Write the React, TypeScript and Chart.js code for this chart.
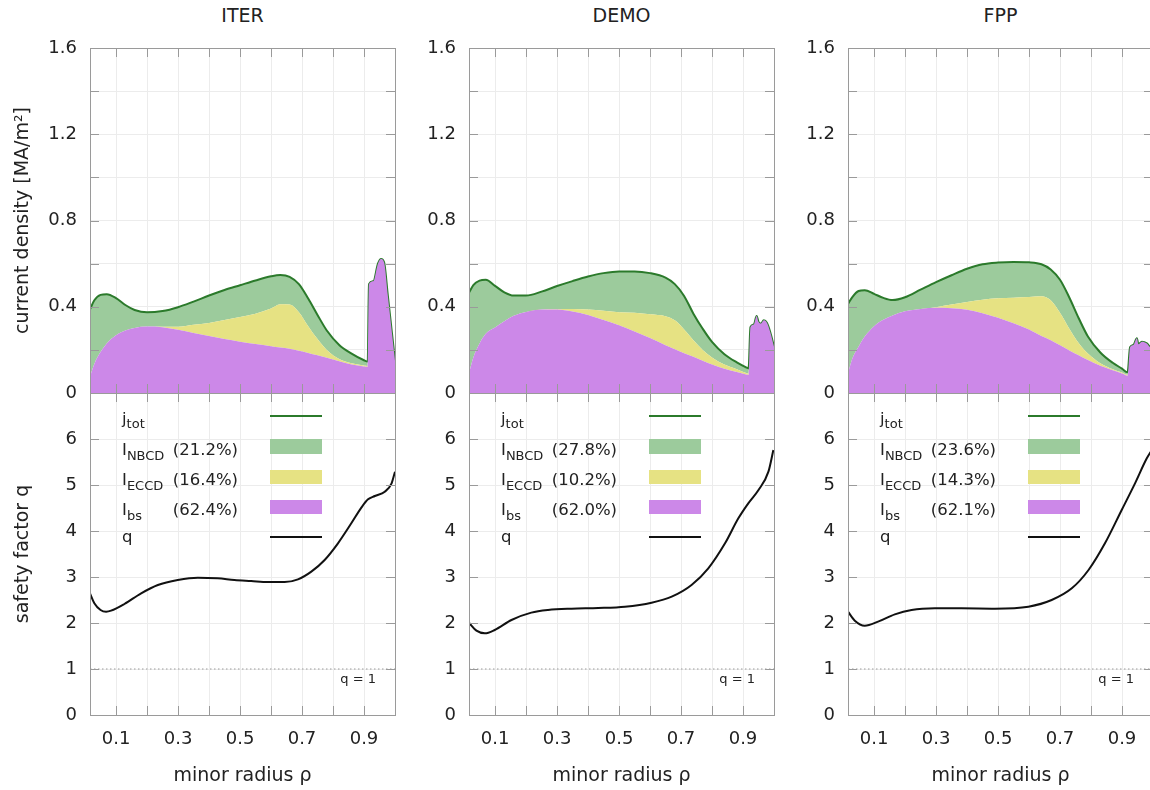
import React, { useEffect, useRef } from "react";
import { Chart, registerables } from "chart.js";

Chart.register(...registerables);

// ---------------- data ----------------
const MACHINES = ["ITER", "DEMO", "FPP"];

const X_MIN = 0.016;
const X_MAX = 1.0;
const J_MAX = 1.6;
const Q_MAX = 7;
const Q_REF = 1;

const X_LABELS = [0.1, 0.3, 0.5, 0.7, 0.9];
const J_LABELS = [0, 0.4, 0.8, 1.2, 1.6];
const Q_LABELS = [0, 1, 2, 3, 4, 5, 6];

const SHARE_NBCD = ["21.2%", "27.8%", "23.6%"];
const SHARE_ECCD = ["16.4%", "10.2%", "14.3%"];
const SHARE_BS = ["62.4%", "62.0%", "62.1%"];

// ITER current density components [MA/m^2]
const ITER_RHO = [0.016, 0.03, 0.05, 0.07, 0.1, 0.13, 0.16, 0.2, 0.25, 0.3, 0.35, 0.4, 0.45, 0.5, 0.55, 0.6, 0.63, 0.66, 0.69, 0.72, 0.75, 0.78, 0.82, 0.86, 0.9, 0.912, 0.916, 0.93, 0.945, 0.955, 0.965, 0.977, 0.99, 1.0];
const ITER_J_BS = [0.076, 0.135, 0.19, 0.23, 0.268, 0.29, 0.302, 0.308, 0.305, 0.293, 0.278, 0.264, 0.25, 0.238, 0.227, 0.217, 0.211, 0.205, 0.196, 0.186, 0.175, 0.163, 0.147, 0.132, 0.123, 0.121, 0.505, 0.518, 0.6, 0.622, 0.605, 0.45, 0.28, 0.15];
const ITER_J_ECCD = [0, 0, 0, 0, 0, 0, 0, 0, 0.002, 0.014, 0.038, 0.061, 0.088, 0.114, 0.141, 0.175, 0.201, 0.205, 0.179, 0.124, 0.075, 0.037, 0.011, 0.006, 0.004, 0.004, 0, 0, 0, 0, 0, 0, 0, 0];
const ITER_J_NBCD = [0.312, 0.295, 0.265, 0.228, 0.172, 0.118, 0.083, 0.066, 0.073, 0.091, 0.108, 0.127, 0.14, 0.148, 0.154, 0.149, 0.135, 0.129, 0.13, 0.128, 0.112, 0.09, 0.065, 0.045, 0.025, 0.021, 0, 0, 0, 0, 0, 0, 0, 0];
const ITER_Q_RHO = [0.016, 0.03, 0.05, 0.068, 0.084, 0.127, 0.181, 0.235, 0.299, 0.364, 0.428, 0.482, 0.536, 0.59, 0.644, 0.687, 0.73, 0.773, 0.816, 0.859, 0.892, 0.913, 0.935, 0.967, 0.989, 1.0];
const ITER_Q = [2.645, 2.428, 2.283, 2.246, 2.268, 2.413, 2.645, 2.826, 2.935, 2.986, 2.971, 2.935, 2.913, 2.891, 2.891, 2.949, 3.116, 3.37, 3.732, 4.167, 4.514, 4.688, 4.761, 4.855, 5.036, 5.29];

// DEMO
const DEMO_RHO = [0.016, 0.03, 0.05, 0.07, 0.1, 0.13, 0.16, 0.2, 0.25, 0.3, 0.35, 0.4, 0.45, 0.5, 0.55, 0.6, 0.65, 0.68, 0.71, 0.74, 0.77, 0.8, 0.84, 0.88, 0.91, 0.918, 0.924, 0.935, 0.944, 0.95, 0.958, 0.967, 0.977, 0.988, 1.0];
const DEMO_J_BS = [0.091, 0.165, 0.23, 0.275, 0.304, 0.333, 0.358, 0.376, 0.387, 0.387, 0.378, 0.362, 0.338, 0.314, 0.285, 0.255, 0.222, 0.203, 0.184, 0.168, 0.15, 0.132, 0.113, 0.097, 0.086, 0.084, 0.305, 0.318, 0.357, 0.33, 0.322, 0.337, 0.326, 0.282, 0.215];
const DEMO_J_ECCD = [0, 0, 0, 0, 0, 0, 0, 0, 0, 0.002, 0.012, 0.025, 0.044, 0.061, 0.087, 0.11, 0.134, 0.134, 0.111, 0.077, 0.05, 0.033, 0.019, 0.013, 0.007, 0.006, 0, 0, 0, 0, 0, 0, 0, 0, 0];
const DEMO_J_NBCD = [0.374, 0.335, 0.291, 0.25, 0.193, 0.134, 0.094, 0.076, 0.083, 0.107, 0.129, 0.153, 0.174, 0.189, 0.192, 0.191, 0.179, 0.168, 0.155, 0.123, 0.098, 0.072, 0.048, 0.032, 0.026, 0.024, 0, 0, 0, 0, 0, 0, 0, 0, 0];
const DEMO_Q_RHO = [0.016, 0.04, 0.067, 0.099, 0.153, 0.217, 0.271, 0.347, 0.433, 0.519, 0.605, 0.67, 0.734, 0.788, 0.842, 0.885, 0.917, 0.95, 0.982, 0.998];
const DEMO_Q = [2.007, 1.833, 1.775, 1.848, 2.065, 2.225, 2.283, 2.312, 2.326, 2.355, 2.442, 2.572, 2.826, 3.188, 3.732, 4.275, 4.601, 4.891, 5.29, 5.761];

// FPP
const FPP_RHO = [0.016, 0.03, 0.05, 0.07, 0.1, 0.13, 0.16, 0.2, 0.25, 0.3, 0.35, 0.4, 0.45, 0.5, 0.55, 0.6, 0.64, 0.67, 0.7, 0.73, 0.76, 0.79, 0.83, 0.87, 0.9, 0.918, 0.926, 0.937, 0.948, 0.953, 0.964, 0.98, 0.991, 1.0];
const FPP_J_BS = [0.091, 0.16, 0.215, 0.262, 0.31, 0.34, 0.36, 0.379, 0.39, 0.395, 0.393, 0.386, 0.37, 0.349, 0.323, 0.294, 0.264, 0.245, 0.221, 0.197, 0.175, 0.153, 0.126, 0.105, 0.09, 0.08, 0.212, 0.223, 0.254, 0.226, 0.238, 0.23, 0.212, 0.205];
const FPP_J_ECCD = [0, 0, 0, 0, 0, 0, 0, 0, 0, 0.003, 0.017, 0.036, 0.063, 0.09, 0.119, 0.151, 0.185, 0.185, 0.151, 0.101, 0.057, 0.03, 0.012, 0.005, 0.005, 0.004, 0, 0, 0, 0, 0, 0, 0, 0];
const FPP_J_NBCD = [0.322, 0.285, 0.258, 0.215, 0.15, 0.101, 0.071, 0.065, 0.089, 0.116, 0.136, 0.154, 0.164, 0.166, 0.166, 0.161, 0.148, 0.143, 0.153, 0.145, 0.116, 0.079, 0.05, 0.03, 0.018, 0.012, 0, 0, 0, 0, 0, 0, 0, 0];
const FPP_Q_RHO = [0.016, 0.038, 0.07, 0.113, 0.167, 0.221, 0.296, 0.382, 0.49, 0.598, 0.673, 0.738, 0.792, 0.845, 0.899, 0.942, 0.98, 1.0];
const FPP_Q = [2.246, 2.051, 1.942, 2.029, 2.188, 2.283, 2.319, 2.319, 2.312, 2.355, 2.5, 2.754, 3.152, 3.732, 4.457, 5.036, 5.58, 5.8];

const RHO = [ITER_RHO, DEMO_RHO, FPP_RHO];
const J_BS = [ITER_J_BS, DEMO_J_BS, FPP_J_BS];
const J_ECCD = [ITER_J_ECCD, DEMO_J_ECCD, FPP_J_ECCD];
const J_NBCD = [ITER_J_NBCD, DEMO_J_NBCD, FPP_J_NBCD];
const Q_RHO = [ITER_Q_RHO, DEMO_Q_RHO, FPP_Q_RHO];
const Q_VAL = [ITER_Q, DEMO_Q, FPP_Q];

// ---------------- styles / layout ----------------
const FONT = '"DejaVu Sans", Verdana, sans-serif';
const TEXT = "#222222";
const GRID = "#ececec";
const FRAME = "#9a9a9a";
const C_PURPLE = "#cc88e8";
const C_YELLOW = "#e6e283";
const C_GREEN = "#9ccb9c";
const C_JTOT = "#2b7a2b";
const C_Q = "#111111";

const PLOT_LEFT = [90, 469, 848];
const PLOT_W = 305;
const TOP_Y0 = 48;
const MID_Y = 393;
const BOT_Y1 = 715;
const AXIS_W = [90, 60, 60];
const PAD_T = 30;
const PAD_B = 30;
const PAD_R = 20;
const XAXIS_H = 790 - BOT_Y1;

const TICK_FONT = { family: FONT, size: 18 };
const TITLE_FONT = { family: FONT, size: 19 };

const near = (arr: number[], v: number) => arr.some((a) => Math.abs(a - v) < 1e-6);

const framePlugin = {
  id: "frameTicks",
  afterDatasetsDraw(chart: any) {
    const { ctx, chartArea } = chart;
    const { left, right, top, bottom } = chartArea;
    const xs = chart.scales.x;
    const ys = chart.scales.y;
    const L = 9;
    ctx.save();
    ctx.strokeStyle = FRAME;
    ctx.lineWidth = 1;
    ctx.beginPath();
    xs.ticks.forEach((t: any) => {
      const px = Math.round(xs.getPixelForValue(t.value)) + 0.5;
      if (px > left + 2 && px < right - 2) {
        ctx.moveTo(px, bottom);
        ctx.lineTo(px, bottom - L);
        ctx.moveTo(px, top);
        ctx.lineTo(px, top + L);
      }
    });
    ys.ticks.forEach((t: any) => {
      const py = Math.round(ys.getPixelForValue(t.value)) + 0.5;
      if (py > top + 2 && py < bottom - 2) {
        ctx.moveTo(left, py);
        ctx.lineTo(left + L, py);
        ctx.moveTo(right, py);
        ctx.lineTo(right - L, py);
      }
    });
    ctx.stroke();
    ctx.strokeRect(left + 0.5, top + 0.5, right - left, bottom - top);
    ctx.restore();
  },
};

function xScale(showLabels: boolean) {
  return {
    type: "linear",
    min: X_MIN,
    max: X_MAX,
    border: { display: false },
    grid: { color: GRID, drawTicks: false, lineWidth: 1 },
    ticks: {
      display: showLabels,
      stepSize: 0.1,
      includeBounds: false,
      autoSkip: false,
      maxRotation: 0,
      minRotation: 0,
      padding: 14,
      color: TEXT,
      font: TICK_FONT,
      callback: (v: number) => (near(X_LABELS, v) ? v.toFixed(1) : ""),
    },
    title: {
      display: showLabels,
      text: "minor radius ρ",
      color: TEXT,
      font: TITLE_FONT,
      padding: { top: 0, bottom: 3 },
    },
    afterFit: (s: any) => {
      s.height = showLabels ? XAXIS_H : 0;
    },
  };
}

function topConfig(i: number): any {
  const rho = RHO[i];
  const pts = (arr: number[]) => rho.map((x, k) => ({ x, y: arr[k] }));
  const common = { pointRadius: 0, cubicInterpolationMode: "monotone", borderWidth: 0 };
  return {
    type: "line",
    data: {
      datasets: [
        { ...common, label: "I_bs", data: pts(J_BS[i]), backgroundColor: C_PURPLE, borderColor: C_PURPLE, fill: "origin" },
        { ...common, label: "I_ECCD", data: pts(J_ECCD[i]), backgroundColor: C_YELLOW, borderColor: C_YELLOW, fill: "-1" },
        { ...common, label: "I_NBCD / j_tot", data: pts(J_NBCD[i]), backgroundColor: C_GREEN, borderColor: C_JTOT, borderWidth: 2, fill: "-1" },
      ],
    },
    options: {
      animation: false,
      responsive: false,
      devicePixelRatio: 1,
      layout: { padding: { left: 0, top: PAD_T, right: PAD_R, bottom: PAD_B } },
      plugins: { legend: { display: false }, tooltip: { enabled: false } },
      scales: {
        x: xScale(false),
        y: {
          type: "linear",
          stacked: true,
          min: 0,
          max: J_MAX,
          border: { display: false },
          grid: { color: GRID, drawTicks: false },
          ticks: {
            stepSize: 0.2,
            autoSkip: false,
            padding: 13,
            color: TEXT,
            font: TICK_FONT,
            callback: (v: number) => (near(J_LABELS, v) ? (v === 0 ? "0" : v.toFixed(1)) : ""),
          },
          title: {
            display: i === 0,
            text: "current density [MA/m²]",
            color: TEXT,
            font: TITLE_FONT,
            padding: { top: 12, bottom: 0 },
          },
          afterFit: (s: any) => {
            s.width = AXIS_W[i];
          },
        },
      },
    },
    plugins: [framePlugin],
  };
}

function bottomConfig(i: number): any {
  const qr = Q_RHO[i];
  return {
    type: "line",
    data: {
      datasets: [
        {
          label: "q",
          data: qr.map((x, k) => ({ x, y: Q_VAL[i][k] })),
          borderColor: C_Q,
          borderWidth: 2,
          pointRadius: 0,
          cubicInterpolationMode: "monotone",
          fill: false,
        },
        {
          label: "q = 1",
          data: [
            { x: X_MIN, y: Q_REF },
            { x: X_MAX, y: Q_REF },
          ],
          borderColor: "#9a9a9a",
          borderWidth: 1,
          borderDash: [1.5, 2.5],
          pointRadius: 0,
          fill: false,
        },
      ],
    },
    options: {
      animation: false,
      responsive: false,
      devicePixelRatio: 1,
      layout: { padding: { left: 0, top: PAD_T, right: PAD_R, bottom: 0 } },
      plugins: { legend: { display: false }, tooltip: { enabled: false } },
      scales: {
        x: xScale(true),
        y: {
          type: "linear",
          min: 0,
          max: Q_MAX,
          border: { display: false },
          grid: { color: GRID, drawTicks: false },
          ticks: {
            stepSize: 1,
            autoSkip: false,
            padding: 13,
            color: TEXT,
            font: TICK_FONT,
            callback: (v: number) => (near(Q_LABELS, v) ? String(v) : ""),
          },
          title: {
            display: i === 0,
            text: "safety factor q",
            color: TEXT,
            font: TITLE_FONT,
            padding: { top: 12, bottom: 0 },
          },
          afterFit: (s: any) => {
            s.width = AXIS_W[i];
          },
        },
      },
    },
    plugins: [framePlugin],
  };
}

function ChartCanvas({ make, left, top, width, height }: any) {
  const ref = useRef<HTMLCanvasElement>(null);
  useEffect(() => {
    const chart = new Chart(ref.current as HTMLCanvasElement, make());
    return () => chart.destroy();
  }, []);
  return (
    <canvas
      ref={ref}
      width={width}
      height={height}
      style={{ position: "absolute", left, top, width, height, display: "block" }}
    />
  );
}

const LEG_FS = 16.5;
const subStyle: any = { fontSize: 13, verticalAlign: "baseline", position: "relative", top: 5 };

function Legend({ i }: { i: number }) {
  const L = PLOT_LEFT[i];
  const tx = L + 32;
  const sx = L + 180;
  const sw = 52;
  const pctRight = L + 148;
  const rowTop = (baseline: number) => baseline - 14.7;
  const base: any = { position: "absolute", fontSize: LEG_FS, lineHeight: "18px", color: TEXT, whiteSpace: "nowrap" };
  const pct: any = { ...base, left: pctRight - 90, width: 90, textAlign: "right" };
  return (
    <>
      <div style={{ ...base, left: tx, top: rowTop(424.5) }}>
        j<sub style={{ ...subStyle, top: 4, marginLeft: 0 }}>tot</sub>
      </div>
      <div style={{ ...base, left: tx, top: rowTop(455.7) }}>
        I<sub style={{ ...subStyle, marginLeft: 0 }}>NBCD</sub>
      </div>
      <div style={{ ...pct, top: rowTop(455.7) }}>({SHARE_NBCD[i]})</div>
      <div style={{ ...base, left: tx, top: rowTop(486) }}>
        I<sub style={{ ...subStyle, marginLeft: 0 }}>ECCD</sub>
      </div>
      <div style={{ ...pct, top: rowTop(486) }}>({SHARE_ECCD[i]})</div>
      <div style={{ ...base, left: tx, top: rowTop(516) }}>
        I<sub style={{ ...subStyle, marginLeft: 0 }}>bs</sub>
      </div>
      <div style={{ ...pct, top: rowTop(516) }}>({SHARE_BS[i]})</div>
      <div style={{ ...base, left: tx, top: rowTop(543) }}>q</div>

      <div style={{ position: "absolute", left: sx, top: 415, width: sw, height: 2, background: C_JTOT }} />
      <div style={{ position: "absolute", left: sx, top: 439, width: sw, height: 14.5, background: C_GREEN }} />
      <div style={{ position: "absolute", left: sx, top: 469.5, width: sw, height: 14.5, background: C_YELLOW }} />
      <div style={{ position: "absolute", left: sx, top: 499.5, width: sw, height: 14.5, background: C_PURPLE }} />
      <div style={{ position: "absolute", left: sx, top: 536, width: sw, height: 2, background: C_Q }} />

      <div
        style={{
          position: "absolute",
          left: L + PLOT_W - 19 - 60,
          width: 60,
          textAlign: "right",
          top: 671,
          fontSize: 13,
          lineHeight: "15px",
          color: TEXT,
          whiteSpace: "nowrap",
        }}
      >
        q = 1
      </div>
    </>
  );
}

function Panel({ i }: { i: number }) {
  const L = PLOT_LEFT[i];
  const cLeft = L - AXIS_W[i];
  const cWidth = AXIS_W[i] + PLOT_W + PAD_R;
  return (
    <>
      <div
        style={{
          position: "absolute",
          left: L,
          width: PLOT_W,
          top: 4,
          textAlign: "center",
          fontSize: 19,
          lineHeight: "22px",
          color: TEXT,
        }}
      >
        {MACHINES[i]}
      </div>
      <ChartCanvas
        make={() => bottomConfig(i)}
        left={cLeft}
        top={MID_Y - PAD_T}
        width={cWidth}
        height={PAD_T + (BOT_Y1 - MID_Y) + XAXIS_H}
      />
      <ChartCanvas
        make={() => topConfig(i)}
        left={cLeft}
        top={TOP_Y0 - PAD_T}
        width={cWidth}
        height={PAD_T + (MID_Y - TOP_Y0) + PAD_B}
      />
      <Legend i={i} />
    </>
  );
}

export default function App() {
  return (
    <div
      style={{
        position: "fixed",
        left: 0,
        top: 0,
        width: 1150,
        height: 790,
        overflow: "hidden",
        background: "#ffffff",
        fontFamily: FONT,
      }}
    >
      {MACHINES.map((m, i) => (
        <Panel key={m} i={i} />
      ))}
    </div>
  );
}
